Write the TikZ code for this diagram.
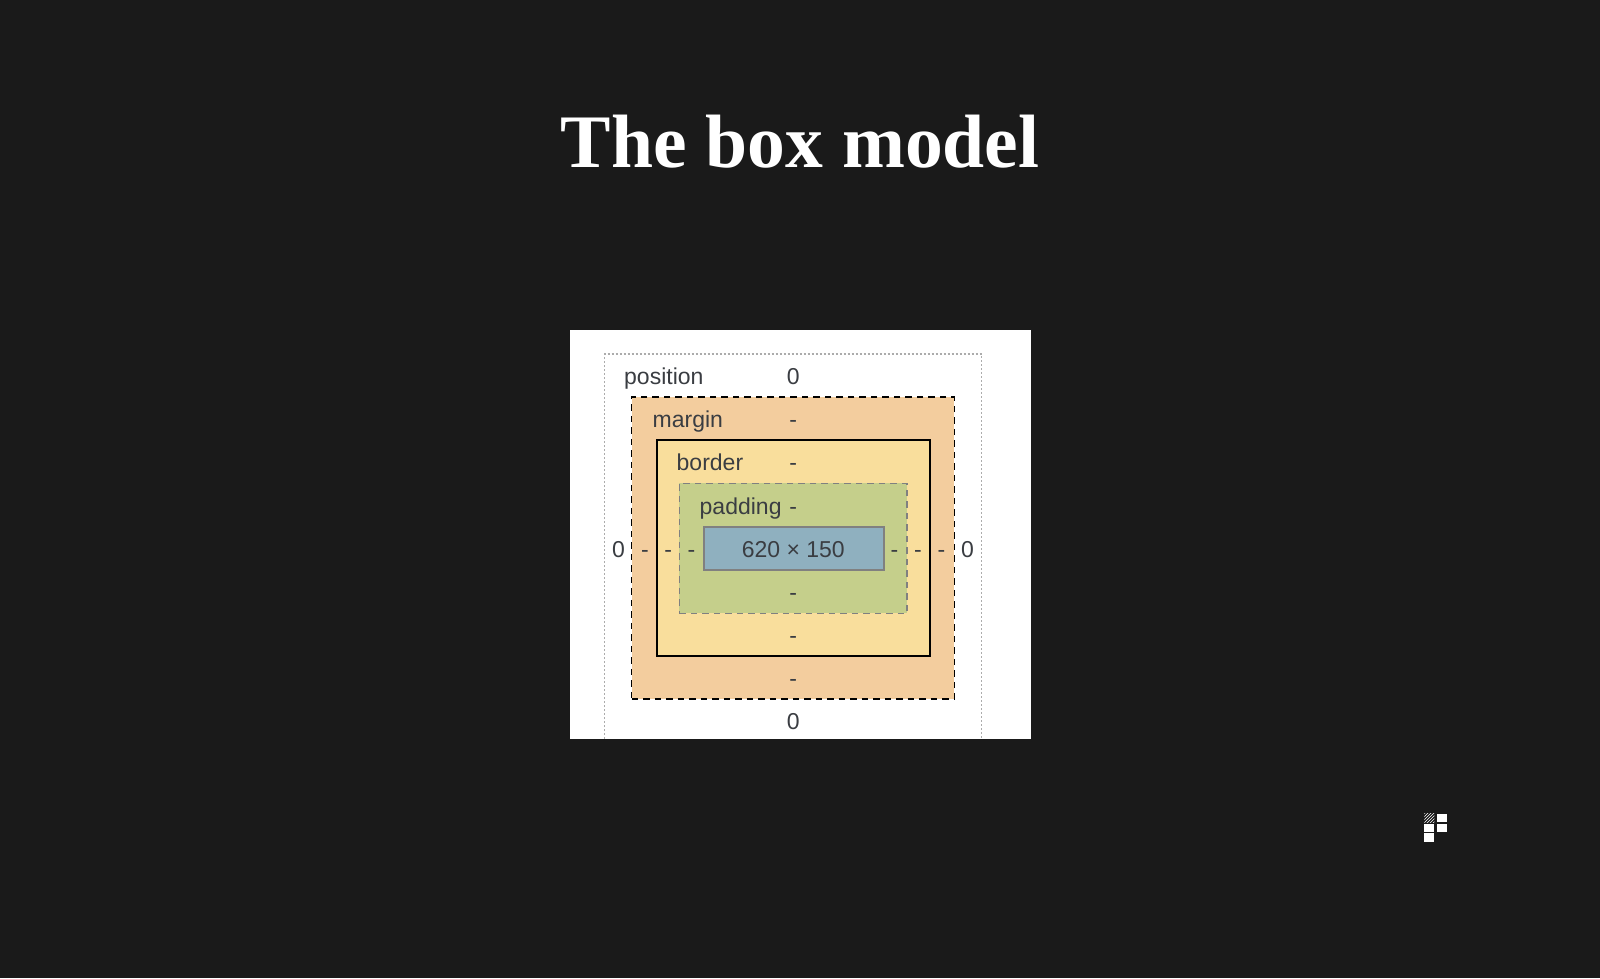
\documentclass[tikz,border=0pt]{standalone}
\usepackage{xcolor}
\usepackage{fontspec}
\setmainfont{Liberation Sans}
\newfontfamily\titlefont{Liberation Serif}
\usetikzlibrary{patterns}
\definecolor{slide}{HTML}{1A1A1A}
\definecolor{ink}{HTML}{3A3D42}
\definecolor{marginfill}{HTML}{F3CD9E}
\definecolor{borderfill}{HTML}{F9DE9C}
\definecolor{paddingfill}{HTML}{C5CF8B}
\definecolor{contentfill}{HTML}{8FB0BF}

\begin{document}
\begin{tikzpicture}[x=1pt, y=-1pt]
            \tikzstyle{Box} = [inner sep=0cm, outer sep=0cm, anchor=north west]
            \tikzstyle{Label} = [color=ink, inner sep=0cm, font=\fontsize{23}{23}\selectfont]
            \tikzstyle{Side Label} = [Label, anchor=base west]
            \tikzstyle{Dash Label} = [Label, anchor=base]
            \tikzstyle{Logo Cell} = [inner sep=0cm, outer sep=0cm, anchor=north west, minimum width=10pt, minimum height=8.3pt]
            \fill[slide] (0, 0) rectangle (1600, 978);
            \useasboundingbox (0, 0) rectangle (1600, 978);
            \node[color=white, font=\titlefont\bfseries\fontsize{75.6}{76}\selectfont, inner sep=0cm, anchor=base] (title) at (800, 167) {The box model};
            % sheet
            \node[Box, fill=white, minimum width=461pt, minimum height=409pt] (sheet) at (569.5, 330) {};
            \coordinate (position sw) at (604.5, 739);
            \coordinate (position nw) at (604.5, 354);
            \coordinate (position ne) at (981.5, 354);
            \coordinate (position se) at (981.5, 739);
            \draw[color=gray!65, line width=1.6pt, dash pattern=on 2pt off 2pt] (position sw) -- (position nw) -- (position ne) -- (position se);
            % nested boxes
            \node[Box, fill=marginfill, draw=black, line width=1.5pt, dash pattern=on 6.5pt off 5pt, minimum width=322.6pt, minimum height=302pt] (margin) at (631.7, 397) {};
            \node[Box, fill=borderfill, draw=black, line width=2pt, minimum width=273pt, minimum height=216pt] (border) at (656.7, 440.3) {};
            \node[Box, fill=paddingfill, draw=gray, line width=1.5pt, dash pattern=on 6.5pt off 5pt, minimum width=227.7pt, minimum height=130pt] (padding) at (679.3, 483.3) {};
            \node[Box, fill=contentfill, draw=gray, line width=2pt, minimum width=180pt, minimum height=43.3pt] (content) at (704.3, 526.7) {};
            % labels
            \node[Side Label] (position label) at (624, 384.5) {position};
            \node[Side Label] (margin label) at (652.5, 427.5) {margin};
            \node[Side Label] (border label) at (676.5, 470.5) {border};
            \node[Side Label] (padding label) at (699.5, 514) {padding};
            \node[Dash Label] (size label) at (793.3, 557) {620 × 150};
            \node[Dash Label] (position top) at (793.3, 384.5) {0};
            \node[Dash Label] (margin top) at (793.3, 427.5) {-};
            \node[Dash Label] (border top) at (793.3, 470.5) {-};
            \node[Dash Label] (padding top) at (793.3, 514) {-};
            \node[Dash Label] (padding bottom) at (793.3, 600) {-};
            \node[Dash Label] (border bottom) at (793.3, 643) {-};
            \node[Dash Label] (margin bottom) at (793.3, 686) {-};
            \node[Dash Label] (position bottom) at (793.3, 729) {0};
            \node[Dash Label] (position left) at (618.5, 557) {0};
            \node[Dash Label] (margin left) at (645, 557) {-};
            \node[Dash Label] (border left) at (668.3, 557) {-};
            \node[Dash Label] (padding left) at (691.5, 557) {-};
            \node[Dash Label] (padding right) at (894.5, 557) {-};
            \node[Dash Label] (border right) at (918, 557) {-};
            \node[Dash Label] (margin right) at (941.5, 557) {-};
            \node[Dash Label] (position right) at (967.5, 557) {0};
            % logo
            \node[Logo Cell, pattern=north east lines, pattern color=white] (logo a) at (1424.3, 813.8) {};
            \node[Logo Cell, fill=white] (logo b) at (1436.5, 813.8) {};
            \node[Logo Cell, fill=white] (logo c) at (1424.3, 823.6) {};
            \node[Logo Cell, fill=white] (logo d) at (1436.5, 823.6) {};
            \node[Logo Cell, fill=white] (logo e) at (1424.3, 833.4) {};
        \end{tikzpicture}
\end{document}
